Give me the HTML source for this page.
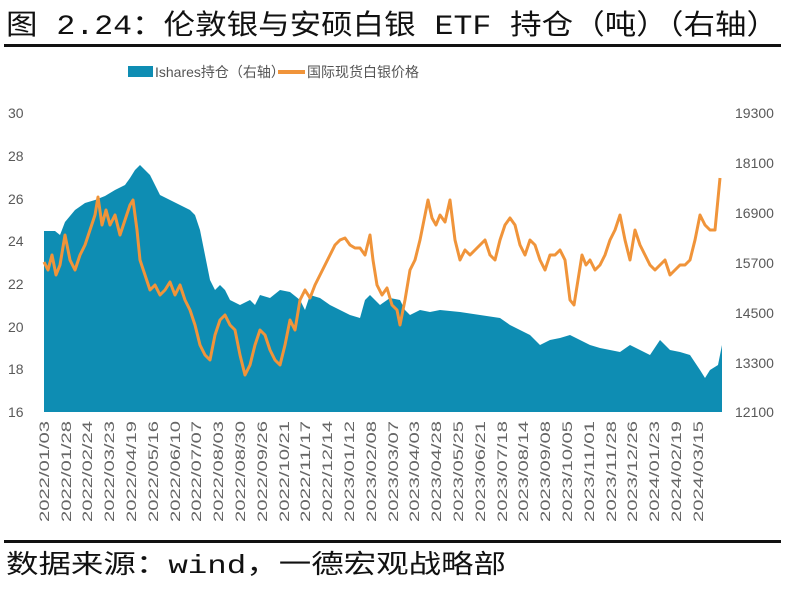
<!DOCTYPE html>
<html><head><meta charset="utf-8"><style>
body{margin:0;background:#fff;width:790px;height:587px;overflow:hidden}
</style></head><body>
<svg width="790" height="587" xmlns="http://www.w3.org/2000/svg">
<text x="6" y="34" font-family="Liberation Mono, Noto Sans CJK SC, sans-serif" font-size="28" fill="#111" textLength="772" lengthAdjust="spacingAndGlyphs">图 2.24：伦敦银与安硕白银 ETF 持仓（吨）（右轴）</text>
<rect x="4" y="44" width="777" height="3" fill="#111"/>
<rect x="128" y="66" width="25" height="11" fill="#0e8db3"/>
<text x="155" y="77" font-family="Liberation Sans, Noto Sans CJK SC, sans-serif" font-size="14" fill="#555">Ishares持仓（右轴）</text>
<rect x="278" y="70" width="27" height="4" fill="#f0943a"/>
<text x="307" y="77" font-family="Liberation Sans, Noto Sans CJK SC, sans-serif" font-size="14" fill="#555">国际现货白银价格</text>
<g font-family="Liberation Sans, sans-serif" font-size="14" fill="#595959">
<text x="8" y="118">30</text><text x="8" y="161">28</text><text x="8" y="204">26</text><text x="8" y="246">24</text><text x="8" y="289">22</text><text x="8" y="332">20</text><text x="8" y="374">18</text><text x="8" y="417">16</text>
<text x="735" y="118">19300</text><text x="735" y="168">18100</text><text x="735" y="218">16900</text><text x="735" y="268">15700</text><text x="735" y="318">14500</text><text x="735" y="368">13300</text><text x="735" y="417">12100</text>
</g>
<polygon fill="#0e8db3" points="44,412 44,231 55,231 60,235 65,222 75,210 85,203 95,200 105,196 115,190 125,185 130,178 135,170 140,165 145,170 150,175 155,185 160,195 170,200 180,205 190,210 195,215 200,230 205,255 210,280 215,290 220,285 225,290 230,300 240,305 250,300 255,305 260,295 270,298 280,290 290,292 300,300 305,310 310,295 320,298 330,305 340,310 350,315 360,318 365,300 370,295 375,300 380,305 390,298 400,300 405,310 410,315 420,310 430,312 440,310 460,312 480,315 500,318 510,325 520,330 530,335 540,345 550,340 560,338 570,335 580,340 590,345 600,348 610,350 620,352 630,345 640,350 650,355 660,340 670,350 680,352 690,355 700,370 705,378 710,370 718,365 722,345 722,412"/>
<polyline fill="none" stroke="#f0943a" stroke-width="3" stroke-linejoin="round" points="44,262 48,270 52,255 56,275 60,265 65,235 70,260 75,270 80,255 85,245 90,230 95,215 98,197 102,225 106,210 110,225 115,215 120,235 125,220 130,205 133,200 137,230 140,260 145,275 150,290 155,285 160,295 165,290 170,282 175,295 180,285 185,300 190,310 195,325 200,345 205,355 210,360 215,335 220,320 225,315 230,325 235,330 240,355 245,375 250,365 255,345 260,330 265,335 270,350 275,360 280,365 285,345 290,320 295,330 300,300 305,290 310,298 315,285 320,275 325,265 330,255 335,245 340,240 345,238 350,245 355,248 360,248 365,255 370,235 373,260 377,285 382,295 387,288 392,305 397,310 400,325 405,300 410,270 415,260 420,240 425,215 428,200 432,218 436,225 440,215 445,222 450,200 455,240 460,260 465,250 470,255 475,250 480,245 485,240 490,255 495,260 500,240 505,225 510,218 515,225 520,245 525,255 530,240 535,245 540,260 545,270 550,255 555,255 560,250 565,260 570,300 574,305 578,280 582,255 586,265 590,260 595,270 600,265 605,255 610,240 615,230 620,215 625,240 630,260 635,230 640,245 645,255 650,265 655,270 660,265 665,260 670,275 675,270 680,265 685,265 690,260 695,240 700,215 705,225 710,230 715,230 720,178"/>
<g font-family="Liberation Sans, sans-serif" font-size="14" fill="#666">
<text transform="translate(49,522) rotate(-90)" textLength="101" lengthAdjust="spacingAndGlyphs">2022/01/03</text>
<text transform="translate(71,522) rotate(-90)" textLength="101" lengthAdjust="spacingAndGlyphs">2022/01/28</text>
<text transform="translate(92,522) rotate(-90)" textLength="101" lengthAdjust="spacingAndGlyphs">2022/02/24</text>
<text transform="translate(114,522) rotate(-90)" textLength="101" lengthAdjust="spacingAndGlyphs">2022/03/23</text>
<text transform="translate(136,522) rotate(-90)" textLength="101" lengthAdjust="spacingAndGlyphs">2022/04/19</text>
<text transform="translate(158,522) rotate(-90)" textLength="101" lengthAdjust="spacingAndGlyphs">2022/05/16</text>
<text transform="translate(180,522) rotate(-90)" textLength="101" lengthAdjust="spacingAndGlyphs">2022/06/10</text>
<text transform="translate(201,522) rotate(-90)" textLength="101" lengthAdjust="spacingAndGlyphs">2022/07/07</text>
<text transform="translate(223,522) rotate(-90)" textLength="101" lengthAdjust="spacingAndGlyphs">2022/08/03</text>
<text transform="translate(245,522) rotate(-90)" textLength="101" lengthAdjust="spacingAndGlyphs">2022/08/30</text>
<text transform="translate(267,522) rotate(-90)" textLength="101" lengthAdjust="spacingAndGlyphs">2022/09/26</text>
<text transform="translate(289,522) rotate(-90)" textLength="101" lengthAdjust="spacingAndGlyphs">2022/10/21</text>
<text transform="translate(310,522) rotate(-90)" textLength="101" lengthAdjust="spacingAndGlyphs">2022/11/17</text>
<text transform="translate(332,522) rotate(-90)" textLength="101" lengthAdjust="spacingAndGlyphs">2022/12/14</text>
<text transform="translate(354,522) rotate(-90)" textLength="101" lengthAdjust="spacingAndGlyphs">2023/01/12</text>
<text transform="translate(376,522) rotate(-90)" textLength="101" lengthAdjust="spacingAndGlyphs">2023/02/08</text>
<text transform="translate(398,522) rotate(-90)" textLength="101" lengthAdjust="spacingAndGlyphs">2023/03/07</text>
<text transform="translate(419,522) rotate(-90)" textLength="101" lengthAdjust="spacingAndGlyphs">2023/04/03</text>
<text transform="translate(441,522) rotate(-90)" textLength="101" lengthAdjust="spacingAndGlyphs">2023/04/28</text>
<text transform="translate(463,522) rotate(-90)" textLength="101" lengthAdjust="spacingAndGlyphs">2023/05/25</text>
<text transform="translate(485,522) rotate(-90)" textLength="101" lengthAdjust="spacingAndGlyphs">2023/06/21</text>
<text transform="translate(507,522) rotate(-90)" textLength="101" lengthAdjust="spacingAndGlyphs">2023/07/18</text>
<text transform="translate(528,522) rotate(-90)" textLength="101" lengthAdjust="spacingAndGlyphs">2023/08/14</text>
<text transform="translate(550,522) rotate(-90)" textLength="101" lengthAdjust="spacingAndGlyphs">2023/09/08</text>
<text transform="translate(572,522) rotate(-90)" textLength="101" lengthAdjust="spacingAndGlyphs">2023/10/05</text>
<text transform="translate(594,522) rotate(-90)" textLength="101" lengthAdjust="spacingAndGlyphs">2023/11/01</text>
<text transform="translate(616,522) rotate(-90)" textLength="101" lengthAdjust="spacingAndGlyphs">2023/11/28</text>
<text transform="translate(637,522) rotate(-90)" textLength="101" lengthAdjust="spacingAndGlyphs">2023/12/26</text>
<text transform="translate(659,522) rotate(-90)" textLength="101" lengthAdjust="spacingAndGlyphs">2024/01/23</text>
<text transform="translate(681,522) rotate(-90)" textLength="101" lengthAdjust="spacingAndGlyphs">2024/02/19</text>
<text transform="translate(703,522) rotate(-90)" textLength="101" lengthAdjust="spacingAndGlyphs">2024/03/15</text>
</g>
<rect x="4" y="540" width="777" height="3" fill="#111"/>
<text x="6" y="573" font-family="Liberation Mono, Noto Sans CJK SC, sans-serif" font-size="26" fill="#111" textLength="500" lengthAdjust="spacingAndGlyphs">数据来源：wind，一德宏观战略部</text>
</svg>
</body></html>
